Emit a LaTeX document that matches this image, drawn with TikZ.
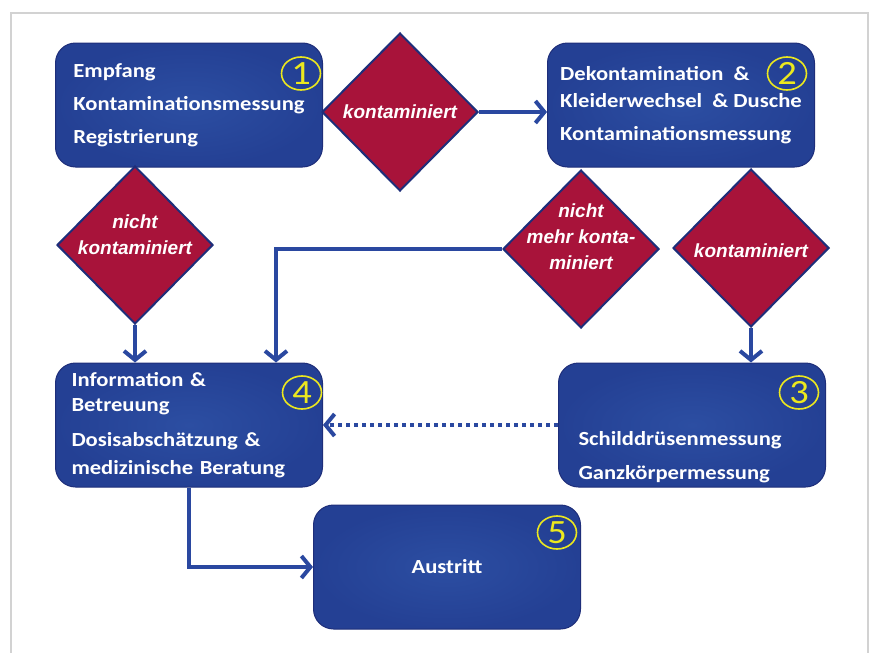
\documentclass[tikz,border=0pt]{standalone}
\usepackage{fontspec}
\setmainfont{Carlito}[FakeStretch=1.13]
\newfontfamily\dfont{Liberation Sans}
\usepackage{tikz}
\usetikzlibrary{arrows,arrows.meta,shapes,calc,positioning}
\definecolor{boxblue}{RGB}{36,64,148}
\definecolor{boxlight}{RGB}{44,78,162}
\definecolor{boxline}{RGB}{30,46,122}
\definecolor{diared}{RGB}{168,19,58}
\definecolor{flowblue}{RGB}{42,72,160}
\definecolor{numyellow}{RGB}{236,232,30}
\definecolor{framegray}{RGB}{210,210,210}
\tikzstyle{arrow}=[draw,flowblue,line width=4pt,
  -{Straight Barb[length=9pt,width=22pt]}]
\tikzstyle{block} =
  [rectangle, draw=boxline, line width=1pt, inner color=boxlight,
   outer color=boxblue, rounded corners=20pt, minimum width=267pt,
   minimum height=124pt, align=left,
   text=white, font=\fontsize{20}{27}\selectfont\bfseries]
\tikzstyle{decision} =
  [diamond, draw=boxline, line width=2pt, fill=diared,
   minimum width=156pt, minimum height=158pt, inner sep=0pt]
\tikzstyle{dlabel} =
  [text=white, align=center, font=\dfont\fontsize{19}{26}\selectfont\bfseries\itshape]
\tikzstyle{num} =
  [ellipse, draw=numyellow, line width=1.6pt, minimum width=39pt,
   minimum height=33pt, inner sep=0pt, text=numyellow,
   font=\fontsize{34}{34}\selectfont]
\begin{document}
\begin{tikzpicture}[x=1pt, y=-1pt, node distance=492pt]
  \useasboundingbox (0,0) rectangle (873,653);
  \draw [framegray, line width=2pt] (10.5,653) -- (10.5,13) -- (868,13) -- (868,653);

  \node [block] (b1) at (189,105) {Empfang\\[6pt] Kontaminationsmessung\\[6pt] Registrierung};
  \node [block, right of=b1] (b2) {Dekontamination\hspace{0.25em} \&\\
    Kleiderwechsel\hspace{0.25em} \& Dusche\\[6pt] Kontaminationsmessung};
  \node [block, below of=b1, node distance=320pt, inner xsep=16pt,
    text width=235pt] (b4) {Information \&\\[-2pt] Betreuung\\[8pt]
    Dosisabschätzung \&\\[1pt] medizinische Beratung};
  \node [block, below of=b2, node distance=320pt, xshift=11pt, inner xsep=20pt,
    text width=227pt] (b3) {\strut\\[33pt] Schilddrüsenmessung\\[7pt] Ganzkörpermessung};
  \node [block, below of=b4, node distance=142pt, xshift=258pt, align=center] (b5) {Austritt};

  \node [decision, right of=b1, node distance=211pt, yshift=-7pt] (k1) {};
  \node [dlabel] (k1-l) at (k1) {kontaminiert};
  \node [decision, below of=b1, node distance=140pt, xshift=-54pt] (nk) {};
  \node [dlabel, yshift=10pt] (nk-l) at (nk) {nicht\\kontaminiert};
  \node [decision, below of=b2, node distance=144pt, xshift=-100pt] (nmk) {};
  \node [dlabel, yshift=12pt] (nmk-l) at (nmk) {nicht\\mehr konta-\\miniert};
  \node [decision, below of=b2, node distance=143pt, xshift=70pt] (k2) {};
  \node [dlabel, yshift=-3pt] (k2-l) at (k2) {kontaminiert};

  \node [num] (n1) at ($(b1.north east)+(-22,31)$) {1};
  \node [num] (n2) at ($(b2.north east)+(-28,31)$) {2};
  \node [num] (n4) at ($(b4.north east)+(-21,30)$) {4};
  \node [num] (n3) at ($(b3.north east)+(-27,30)$) {3};
  \node [num] (n5) at ($(b5.north east)+(-24,28)$) {5};

  \coordinate (c4) at ($(b4.north)+(87,0)$);
  \draw [arrow] (k1.east) -- (k1.east -| b2.west);
  \draw [arrow] (nk.south) -- (nk.south |- b4.north);
  \draw [arrow] (nmk.west) -| (c4);
  \draw [arrow] (k2.south) -- (k2.south |- b3.north);
  \draw [arrow, dash pattern=on 4pt off 4pt] (b3.west) -- (b4.east);
  \draw [arrow] (b4.south) |- (b5.west);
\end{tikzpicture}
\end{document}
